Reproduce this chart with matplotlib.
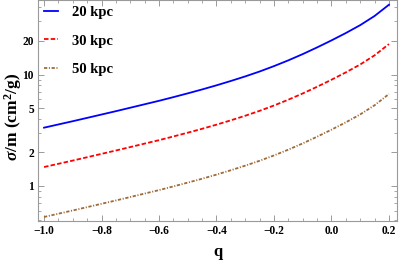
import matplotlib
matplotlib.use("Agg")
import matplotlib.pyplot as plt
from matplotlib.ticker import FixedLocator, NullFormatter, MultipleLocator, FuncFormatter

q = [-1.00, -0.95, -0.90, -0.85, -0.80, -0.75, -0.70, -0.65, -0.60, -0.55, -0.50, -0.45,
     -0.40, -0.35, -0.30, -0.25, -0.20, -0.15, -0.10, -0.05, 0.00, 0.05, 0.10, 0.15, 0.20]
sigma_20 = [3.334, 3.565, 3.811, 4.083, 4.375, 4.688, 5.035, 5.408, 5.808, 6.266, 6.776, 7.345,
            7.998, 8.750, 9.616, 10.64, 11.89, 13.40, 15.24, 17.50, 20.23, 23.55, 27.73, 33.50, 42.27]
sigma_30 = [1.479, 1.581, 1.690, 1.811, 1.941, 2.080, 2.234, 2.399, 2.576, 2.780, 3.006, 3.258,
            3.548, 3.882, 4.266, 4.721, 5.272, 5.943, 6.761, 7.762, 8.974, 10.45, 12.30, 14.86, 18.75]
sigma_50 = [0.527, 0.564, 0.603, 0.646, 0.692, 0.741, 0.796, 0.855, 0.918, 0.991, 1.072, 1.161,
            1.265, 1.384, 1.521, 1.683, 1.879, 2.118, 2.410, 2.767, 3.199, 3.724, 4.385, 5.297, 6.683]
labels = ["20 kpc", "30 kpc", "50 kpc"]
y_major = [1, 2, 5, 10, 20]
y_minor = [0.5, 0.6, 0.7, 0.8, 0.9, 3, 4, 6, 7, 8, 9, 30, 40]

plt.rcParams['font.family'] = ['Liberation Serif', 'DejaVu Serif']
plt.rcParams['mathtext.fontset'] = 'custom'
plt.rcParams['mathtext.rm'] = 'Liberation Serif:bold'
plt.rcParams['mathtext.it'] = 'Liberation Serif:italic:bold'
plt.rcParams['mathtext.bf'] = 'Liberation Serif:bold'

fig = plt.figure(figsize=(3.99, 2.61), dpi=100)
ax = fig.add_axes([38/399, 1 - 221/261, (397-38)/399, 221/261])

ax.plot(q, sigma_20, color=(0, 0, 1), lw=1.3, label=labels[0])
ax.plot(q, sigma_30, color=(1, 0, 0), lw=1.3, ls=(0, (2.5, 1.2)), label=labels[1])
ax.plot(q, sigma_50, color=(0.62, 0.42, 0.22), lw=1.3, ls=(0, (1.8, 0.9, 0.6, 0.9)), label=labels[2])

ax.set_yscale('log')
ax.set_xlim(-1.021, 0.228)
ax.set_ylim(0.485, 46.6)

ax.yaxis.set_major_locator(FixedLocator(y_major))
ax.yaxis.set_minor_locator(FixedLocator(y_minor))
ax.yaxis.set_major_formatter(FuncFormatter(lambda v, p: f"{v:g}"))
ax.yaxis.set_minor_formatter(NullFormatter())
ax.xaxis.set_major_locator(MultipleLocator(0.2))
ax.xaxis.set_minor_locator(MultipleLocator(0.05))
ax.xaxis.set_major_formatter(FuncFormatter(lambda v, p: f"{v:.1f}".replace('-', '\u2212')))

gray = '#9a9a9a'
for s in ax.spines.values():
    s.set_color(gray)
    s.set_linewidth(0.8)
ax.tick_params(which='both', direction='in', top=True, right=True, color=gray,
               labelsize=8.3, pad=3)
ax.tick_params(which='major', length=4, width=0.7)
ax.tick_params(which='minor', length=2, width=0.6)
for lab in ax.get_xticklabels() + ax.get_yticklabels():
    lab.set_fontweight('bold')

ax.set_xlabel('q', fontsize=12, fontweight='bold', labelpad=5)
ax.set_ylabel(r'$\sigma$/m (cm$^2$/g)', fontsize=12.5, fontweight='bold')
ax.yaxis.set_label_coords(-0.04, 0.47)

leg = ax.legend(loc='upper left', bbox_to_anchor=(0.0, 1.0), frameon=False,
                prop={'family': 'Liberation Serif', 'weight': 'bold', 'size': 10.5},
                handlelength=1.0, labelspacing=1.05, handletextpad=0.9,
                borderpad=0.3, borderaxespad=0.1)

fig.savefig('out.png', dpi=100)
